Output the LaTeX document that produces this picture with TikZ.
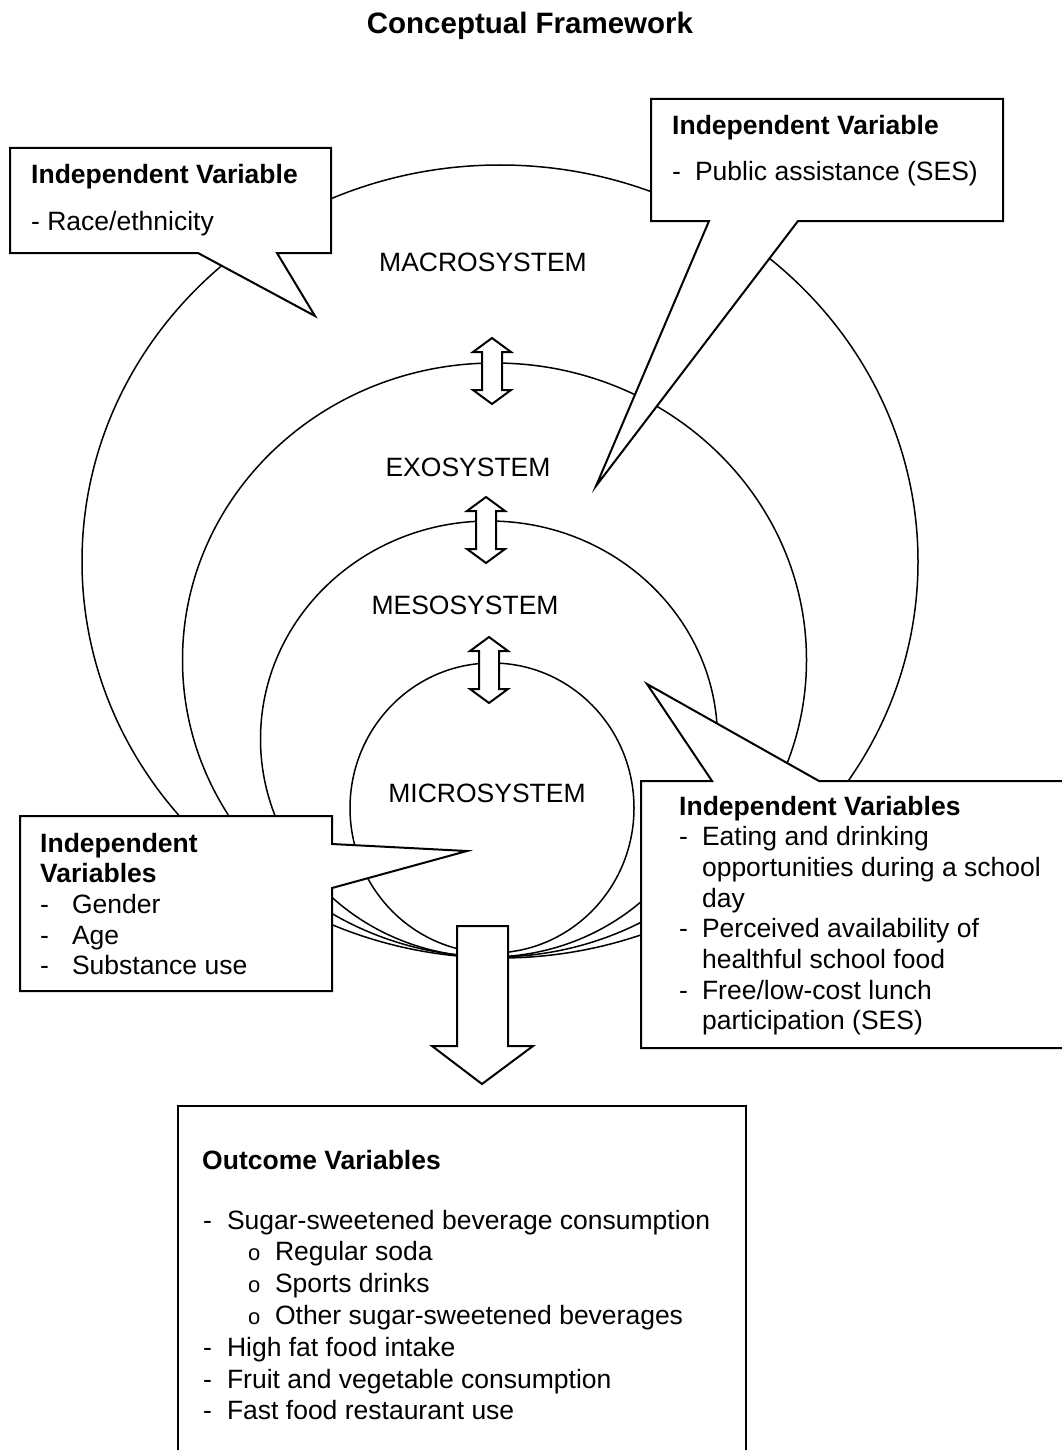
\documentclass[tikz,border=0pt]{standalone}
\usepackage{fontspec}
\setmainfont{Liberation Sans}
\begin{document}
\begin{tikzpicture}[x=1pt,y=-1pt,
	ring/.style={line width=1.5pt},
	callout/.style={draw,fill=white,line width=2pt,line join=miter},
	bigarrow/.style={draw,fill=white,line width=2pt,line join=miter},
	txt/.style={anchor=base west,inner sep=0pt,font=\fontsize{26.5}{30.7}\selectfont},
	headtxt/.style={txt,font=\fontsize{26.5}{30.7}\selectfont\bfseries},
	sysname/.style={inner sep=0pt,font=\fontsize{26.5}{30.7}\selectfont},
	updown/.pic={\draw[bigarrow] (0,0) -- (19,14) -- (10,14) -- (10,52) -- (19,52) -- (0,66)
		-- (-19,52) -- (-10,52) -- (-10,14) -- (-19,14) -- cycle;}]
\useasboundingbox (0,0) rectangle (1062,1450);
\clip (0,0) rectangle (1062,1450);

% systems, all touching at the bottom
\draw[ring] (500,561.5) ellipse [x radius=418pt,y radius=396.5pt];
\draw[ring] (494.5,660) ellipse [x radius=312pt,y radius=297pt];
\draw[ring] (489,739) ellipse [x radius=228.5pt,y radius=218pt];
\draw[ring] (492,808) ellipse [x radius=142pt,y radius=145pt];

\pic at (492,338) {updown};
\pic at (486,497) {updown};
\pic at (489,637) {updown};

\draw[bigarrow] (457,926) -- (508,926) -- (508,1046) -- (533,1046) -- (482,1084)
	-- (432,1046) -- (457,1046) -- cycle;

% callouts
\draw[callout] (10,148) -- (331,148) -- (331,253) -- (277,253) -- (315,316) -- (198,253)
	-- (10,253) -- cycle;
\draw[callout] (651,99) -- (1003,99) -- (1003,221) -- (798,221) -- (596,486) -- (709,221)
	-- (651,221) -- cycle;
\draw[callout] (20,816) -- (332,816) -- (332,844) -- (467,851) -- (332,888) -- (332,991)
	-- (20,991) -- cycle;
\draw[callout] (641,781) -- (712,781) -- (647,684) -- (819,781) -- (1075,781) -- (1075,1048)
	-- (641,1048) -- cycle;
\draw[callout] (178,1106) rectangle (746,1470);

\node[anchor=base,inner sep=0pt,font=\fontsize{29.5}{34}\selectfont\bfseries] (title) at (530,34) {Conceptual Framework};

\node[sysname] (macro) at (483,262) {MACROSYSTEM};
\node[sysname] (exo) at (468,467) {EXOSYSTEM};
\node[sysname] (meso) at (465,605) {MESOSYSTEM};
\node[sysname] (micro) at (487,793) {MICROSYSTEM};

% race / ethnicity
\node[headtxt] (racehead) at (31,183) {Independent Variable};
\node[txt] (race) at (31,230) {- Race/ethnicity};

% public assistance
\node[headtxt] (seshead) at (672,135) {Independent Variable};
\node[txt] (ses) at (672,181) {-\hspace{14pt}Public assistance (SES)};

% individual
\node[txt] (indiv) at (40,852) {\begin{tabular}[t]{@{}l@{\hspace{23pt}}l@{}}
	\multicolumn{2}{@{}l@{}}{\bfseries Independent}\\
	\multicolumn{2}{@{}l@{}}{\bfseries Variables}\\
	-&Gender\\
	-&Age\\
	-&Substance use
\end{tabular}};

% school
\node[txt] (school) at (679,815) {\begin{tabular}[t]{@{}l@{\hspace{14pt}}l@{}}
	\multicolumn{2}{@{}l@{}}{\bfseries Independent Variables}\\
	-&Eating and drinking\\
	&opportunities during a school\\
	&day\\
	-&Perceived availability of\\
	&healthful school food\\
	-&Free/low-cost lunch\\
	&participation (SES)
\end{tabular}};

% outcomes
\node[headtxt] (outhead) at (202,1169) {Outcome Variables};
\node[txt,font=\fontsize{26.5}{31.8}\selectfont] (outlist) at (203,1229) {\begin{tabular}[t]{@{}l@{\hspace{15pt}}l@{}}
	-&Sugar-sweetened beverage consumption\\
	&\hspace{21pt}\makebox[27pt][l]{\fontsize{22}{31.8}\selectfont o}Regular soda\\
	&\hspace{21pt}\makebox[27pt][l]{\fontsize{22}{31.8}\selectfont o}Sports drinks\\
	&\hspace{21pt}\makebox[27pt][l]{\fontsize{22}{31.8}\selectfont o}Other sugar-sweetened beverages\\
	-&High fat food intake\\
	-&Fruit and vegetable consumption\\
	-&Fast food restaurant use
\end{tabular}};
\end{tikzpicture}
\end{document}
